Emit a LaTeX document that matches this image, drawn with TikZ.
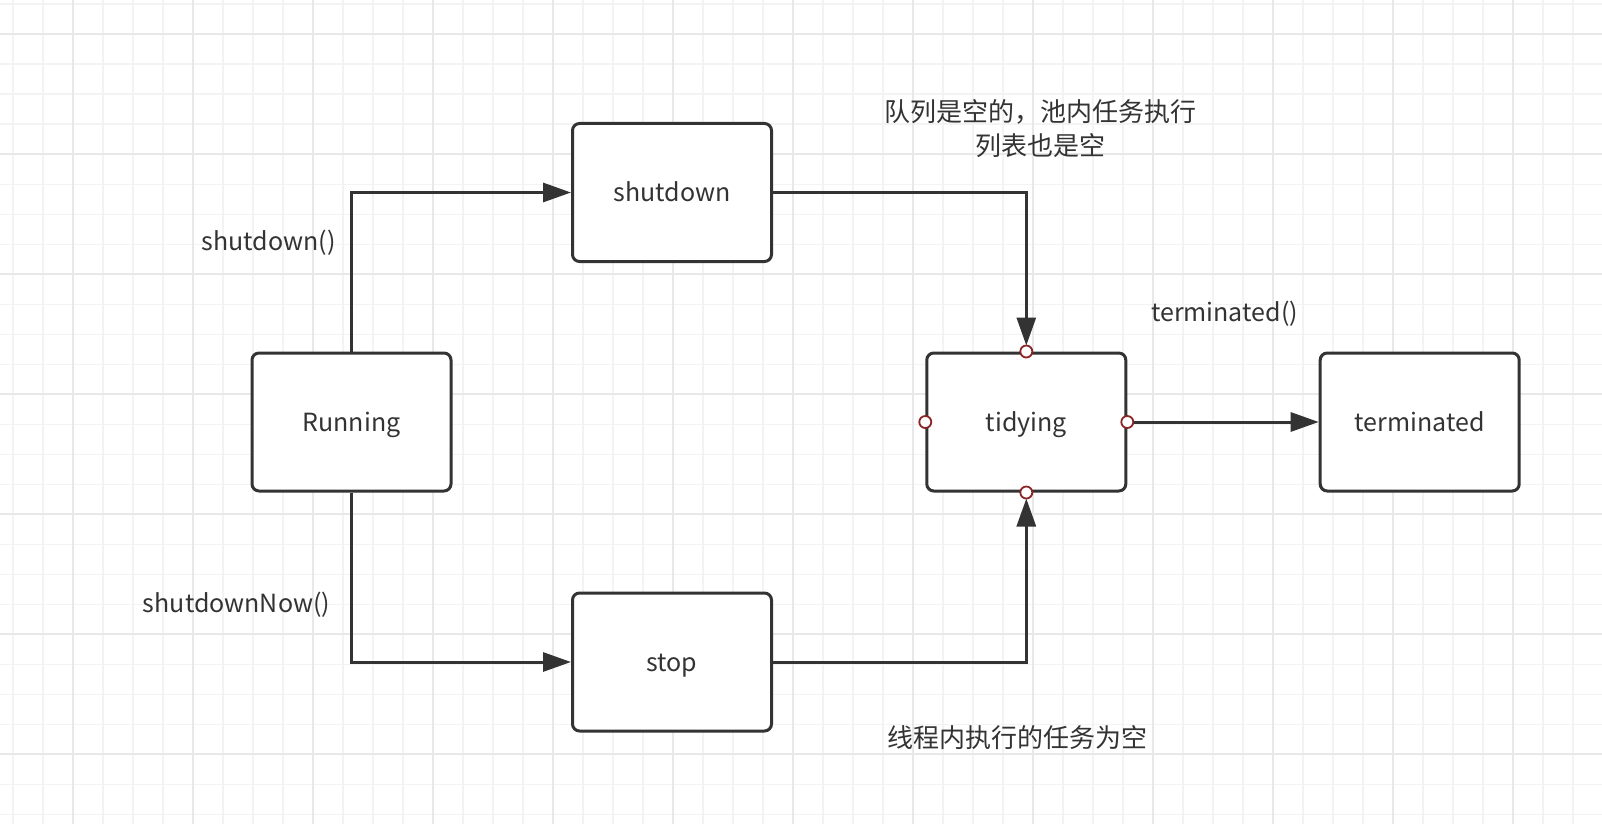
\documentclass[tikz,border=0pt]{standalone}
\usepackage{fontspec}
\setmainfont{Noto Sans CJK SC}
\usetikzlibrary{arrows.meta}
\definecolor{ink}{HTML}{333333}
\definecolor{gridminor}{HTML}{F3F3F3}
\definecolor{gridmajor}{HTML}{E8E8E8}
\definecolor{portred}{HTML}{8B2525}
\begin{document}
\begin{tikzpicture}[x=1pt,y=-1pt,
  state/.style={draw=ink, line width=3pt, rounded corners=7pt, fill=white,
    minimum width=199pt, minimum height=138pt, inner sep=0pt,
    text height=18pt, text depth=0pt,
    font=\fontsize{25}{29}\selectfont, text=ink},
  lbl/.style={font=\fontsize{25}{34}\selectfont, text=ink, inner sep=0pt},
  cjk/.style={font=\fontsize{26}{34}\selectfont, text=ink, inner sep=0pt},
  conn/.style={draw=ink, line width=3pt, -{Triangle[length=28pt,width=19pt]}},
  port/.style={draw=portred, line width=1.8pt, fill=white}]
  % canvas
  \useasboundingbox (0,0) rectangle (1602,824);
  \fill[white] (0,0) rectangle (1602,824);
  % background grid
  \foreach \x in {12.7,42.7,...,1602} \draw[gridminor, line width=1.6pt] (\x,0) -- (\x,824);
  \foreach \y in {4.3,34.3,...,824} \draw[gridminor, line width=1.6pt] (0,\y) -- (1602,\y);
  \foreach \x in {72.7,192.7,...,1602} \draw[gridmajor, line width=1.8pt] (\x,0) -- (\x,824);
  \foreach \y in {34.3,154.3,...,824} \draw[gridmajor, line width=1.8pt] (0,\y) -- (1602,\y);

  % states
  \node[state] (run)  at (351.5,422) {Running};
  \node[state] (sd)   at (672,192.5) {shutdown};
  \node[state] (stop) at (672,662)   {stop};
  \node[state] (tid)  at (1026.3,422) {tidying};
  \node[state] (term) at (1419.7,422) {terminated};

  % transitions
  \draw[conn] (run.north) |- (sd.west);
  \draw[conn] (run.south) |- (stop.west);
  \draw[conn, shorten >=6pt] (sd.east) -| (tid.north);
  \draw[conn, shorten >=6pt] (stop.east) -| (tid.south);
  \draw[conn] (tid.east) -- (term.west);

  % connection points on tidying
  \foreach \a in {north,south,east,west} \draw[port] (tid.\a) circle (6pt);

  % labels
  \node[lbl] (lsd)   at (268.7,243) {shutdown()};
  \node[lbl] (lnow)  at (236.5,605) {shutdownNow()};
  \node[cjk, align=center] (lq) at (1040,129) {队列是空的，池内任务执行\\列表也是空};
  \node[lbl] (lterm) at (1224.5,314) {terminated()};
  \node[cjk] (lth)   at (1017.6,738) {线程内执行的任务为空};
\end{tikzpicture}
\end{document}
